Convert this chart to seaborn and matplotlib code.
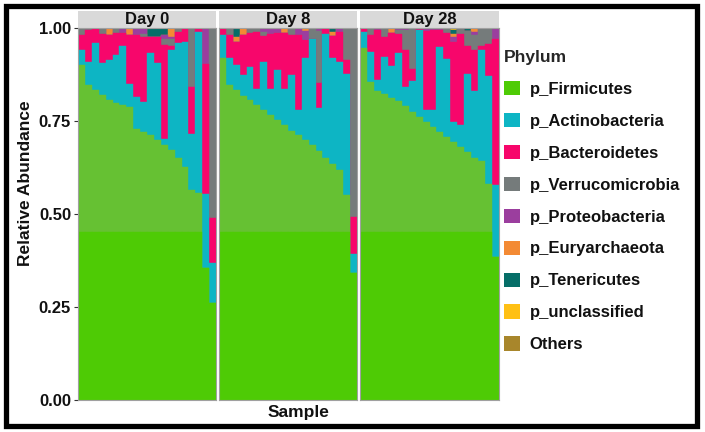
import matplotlib
matplotlib.use("Agg")
import numpy as np
import pandas as pd
import matplotlib.pyplot as plt
from matplotlib.patches import Patch, Rectangle
import seaborn as sns

sns.set_style("white")
plt.rcParams["font.family"] = ["Liberation Sans", "DejaVu Sans"]
plt.rcParams["font.weight"] = "bold"

days = ["Day 0", "Day 8", "Day 28"]
n_samples = 20

phyla = ["p_Firmicutes", "p_Actinobacteria", "p_Bacteroidetes", "p_Verrucomicrobia",
         "p_Proteobacteria", "p_Euryarchaeota", "p_Tenericutes", "p_unclassified", "Others"]
colors = ["#4ECB05", "#0DB5C4", "#F7066B", "#757B7B",
          "#9B3E9E", "#F38A34", "#066E68", "#FFC014", "#A8862B"]
firm_upper_color = "#66C133"   # lighter shade of the green above 0.45 in the original

# relative abundance per sample, 20 samples per day (Day 0, Day 8, Day 28)
firmicutes = [
    0.900, 0.846, 0.833, 0.819, 0.806, 0.799, 0.792, 0.787, 0.727, 0.720, 0.712, 0.698, 0.685, 0.671, 0.649, 0.626, 0.563, 0.555, 0.353, 0.260,
    0.919, 0.846, 0.832, 0.818, 0.806, 0.792, 0.779, 0.766, 0.752, 0.738, 0.724, 0.711, 0.698, 0.684, 0.670, 0.651, 0.634, 0.617, 0.550, 0.340,
    0.945, 0.855, 0.830, 0.822, 0.812, 0.803, 0.790, 0.775, 0.760, 0.748, 0.734, 0.720, 0.707, 0.693, 0.680, 0.666, 0.650, 0.642, 0.581, 0.384,
]
actinobacteria = [
    0.040, 0.062, 0.126, 0.086, 0.108, 0.128, 0.160, 0.063, 0.088, 0.080, 0.220, 0.207, 0.015, 0.270, 0.310, 0.337, 0.152, 0.435, 0.200, 0.107,
    0.063, 0.072, 0.068, 0.055, 0.090, 0.045, 0.130, 0.071, 0.135, 0.099, 0.149, 0.068, 0.220, 0.286, 0.114, 0.334, 0.284, 0.292, 0.327, 0.053,
    0.045, 0.080, 0.030, 0.100, 0.085, 0.130, 0.050, 0.082, 0.235, 0.030, 0.045, 0.230, 0.210, 0.055, 0.060, 0.210, 0.180, 0.300, 0.290, 0.193,
]
bacteroidetes = [
    0.040, 0.087, 0.041, 0.080, 0.066, 0.060, 0.035, 0.130, 0.165, 0.175, 0.045, 0.071, 0.255, 0.010, 0.030, 0.037, 0.125, 0.010, 0.350, 0.121,
    0.018, 0.064, 0.063, 0.107, 0.090, 0.153, 0.069, 0.146, 0.099, 0.149, 0.109, 0.201, 0.050, 0.000, 0.067, 0.015, 0.060, 0.081, 0.037, 0.097,
    0.010, 0.045, 0.135, 0.055, 0.090, 0.050, 0.100, 0.033, 0.005, 0.215, 0.215, 0.045, 0.070, 0.215, 0.245, 0.075, 0.110, 0.010, 0.085, 0.393,
]
verrucomicrobia = [
    0.020, 0.005, 0.000, 0.015, 0.000, 0.013, 0.000, 0.000, 0.000, 0.010, 0.000, 0.000, 0.015, 0.020, 0.011, 0.000, 0.160, 0.000, 0.000, 0.512,
    0.000, 0.018, 0.000, 0.002, 0.012, 0.010, 0.010, 0.000, 0.000, 0.000, 0.018, 0.000, 0.000, 0.030, 0.140, 0.000, 0.000, 0.000, 0.086, 0.510,
    0.000, 0.020, 0.000, 0.020, 0.000, 0.012, 0.055, 0.108, 0.000, 0.000, 0.000, 0.000, 0.010, 0.000, 0.015, 0.040, 0.040, 0.048, 0.040, 0.000,
]
proteobacteria = [
    0.000, 0.000, 0.000, 0.000, 0.000, 0.000, 0.013, 0.000, 0.020, 0.015, 0.000, 0.000, 0.010, 0.004, 0.000, 0.000, 0.000, 0.000, 0.097, 0.000,
    0.000, 0.000, 0.000, 0.000, 0.002, 0.000, 0.012, 0.017, 0.014, 0.000, 0.000, 0.020, 0.025, 0.000, 0.009, 0.000, 0.000, 0.010, 0.000, 0.000,
    0.000, 0.000, 0.005, 0.000, 0.000, 0.005, 0.005, 0.002, 0.000, 0.007, 0.003, 0.005, 0.003, 0.012, 0.000, 0.000, 0.010, 0.000, 0.004, 0.030,
]
euryarchaeota = [
    0.000, 0.000, 0.000, 0.000, 0.020, 0.000, 0.000, 0.020, 0.000, 0.000, 0.000, 0.000, 0.000, 0.025, 0.000, 0.000, 0.000, 0.000, 0.000, 0.000,
    0.000, 0.000, 0.014, 0.018, 0.000, 0.000, 0.000, 0.000, 0.000, 0.014, 0.000, 0.000, 0.007, 0.000, 0.000, 0.000, 0.010, 0.000, 0.000, 0.000,
    0.000, 0.000, 0.000, 0.003, 0.010, 0.000, 0.000, 0.000, 0.000, 0.000, 0.003, 0.000, 0.000, 0.010, 0.000, 0.000, 0.010, 0.000, 0.000, 0.000,
]
tenericutes = [
    0.000, 0.000, 0.000, 0.000, 0.000, 0.000, 0.000, 0.000, 0.000, 0.000, 0.023, 0.024, 0.020, 0.000, 0.000, 0.000, 0.000, 0.000, 0.000, 0.000,
    0.000, 0.000, 0.023, 0.000, 0.000, 0.000, 0.000, 0.000, 0.000, 0.000, 0.000, 0.000, 0.000, 0.000, 0.000, 0.000, 0.012, 0.000, 0.000, 0.000,
    0.000, 0.000, 0.000, 0.000, 0.000, 0.000, 0.000, 0.000, 0.000, 0.000, 0.000, 0.000, 0.000, 0.010, 0.000, 0.009, 0.000, 0.000, 0.000, 0.000,
]
unclassified = [
    0.000, 0.000, 0.000, 0.000, 0.000, 0.000, 0.000, 0.000, 0.000, 0.000, 0.000, 0.000, 0.000, 0.000, 0.000, 0.000, 0.000, 0.000, 0.000, 0.000,
    0.000, 0.000, 0.000, 0.000, 0.000, 0.000, 0.000, 0.000, 0.000, 0.000, 0.000, 0.000, 0.000, 0.000, 0.000, 0.000, 0.000, 0.000, 0.000, 0.000,
    0.000, 0.000, 0.000, 0.000, 0.003, 0.000, 0.000, 0.000, 0.000, 0.000, 0.000, 0.000, 0.000, 0.005, 0.000, 0.000, 0.000, 0.000, 0.000, 0.000,
]
others = [0.0] * 60

df = pd.DataFrame({
    "Day": np.repeat(days, n_samples),
    "Sample": [f"{d}_S{i + 1:02d}" for d in days for i in range(n_samples)],
    "p_Firmicutes": firmicutes,
    "p_Actinobacteria": actinobacteria,
    "p_Bacteroidetes": bacteroidetes,
    "p_Verrucomicrobia": verrucomicrobia,
    "p_Proteobacteria": proteobacteria,
    "p_Euryarchaeota": euryarchaeota,
    "p_Tenericutes": tenericutes,
    "p_unclassified": unclassified,
    "Others": others,
})

# split firmicutes into the two green tones seen in the picture
df["firm_low"] = df["p_Firmicutes"].clip(upper=0.45)
df["firm_high"] = df["p_Firmicutes"] - df["firm_low"]
layer_cols = ["firm_low", "firm_high"] + phyla[1:]
layer_colors = [colors[0], firm_upper_color] + colors[1:]

W, H = 705, 432
fig = plt.figure(figsize=(W / 100, H / 100), dpi=100)

panel_x = [(78, 216), (219, 357), (360, 499)]
top_px, bottom_px = 28, 399.5

axes = []
for (x0, x1), day in zip(panel_x, days):
    ax = fig.add_axes([x0 / W, 1 - bottom_px / H, (x1 - x0) / W, (bottom_px - top_px) / H])
    sub = df[df["Day"] == day].reset_index(drop=True)
    stack = sub[layer_cols].cumsum(axis=1)
    # draw cumulative totals from the top layer down so each layer shows
    for col, c in zip(reversed(layer_cols), reversed(layer_colors)):
        sns.barplot(x=sub["Sample"], y=stack[col], color=c, saturation=1, width=1,
                    errorbar=None, edgecolor=c, linewidth=0.3, ax=ax)
    ax.set_xlim(-0.5, n_samples - 0.5)
    ax.set_ylim(0, 1)
    ax.set_xticks([])
    ax.set_xlabel("")
    ax.set_ylabel("")
    for s in ax.spines.values():
        s.set_color("#A0A0A0")
        s.set_linewidth(0.8)
    # facet strip
    strip_h = 17 / (bottom_px - top_px)
    ax.add_patch(Rectangle((0, 1), 1, strip_h, transform=ax.transAxes,
                           facecolor="#D9D9D9", edgecolor="none", clip_on=False))
    ax.text(0.5, 1 + strip_h / 2, day, transform=ax.transAxes, ha="center", va="center",
            fontsize=12, fontweight="bold", color="#111111")
    axes.append(ax)

axes[0].set_yticks([0, 0.25, 0.5, 0.75, 1.0])
axes[0].set_yticklabels(["0.00", "0.25", "0.50", "0.75", "1.00"])
axes[0].tick_params(axis="y", length=3, width=0.8, color="#333333", labelsize=12,
                    labelcolor="#111111", pad=2, left=True)
for ax in axes[1:]:
    ax.set_yticks([])

fig.text(26 / W, 1 - 183 / H, "Relative Abundance", rotation=90, ha="center", va="center",
         fontsize=12.5, fontweight="bold", color="#111111")
fig.text(299 / W, 1 - 413 / H, "Sample", ha="center", va="center",
         fontsize=12.5, fontweight="bold", color="#111111")

handles = [Patch(facecolor=c, edgecolor="none") for c in colors]
leg = fig.legend(handles, phyla, loc="upper left", bbox_to_anchor=(504 / W, 1 - 50 / H),
                 frameon=False, title="Phylum", fontsize=12, handlelength=0.95,
                 handleheight=0.95, labelspacing=0.96, handletextpad=0.6, borderaxespad=0,
                 borderpad=0)
leg.get_title().set_fontweight("bold")
leg.get_title().set_fontsize(12.5)
leg._legend_box.align = "left"
for t in leg.get_texts():
    t.set_color("#111111")

# black outer frame
fig.add_artist(Rectangle((5.5 / W, 6 / H), (696.5 - 5.5) / W, (426 - 5.5) / H,
                         transform=fig.transFigure, fill=False, edgecolor="black", linewidth=3.8))

fig.savefig("out.png", dpi=100)
